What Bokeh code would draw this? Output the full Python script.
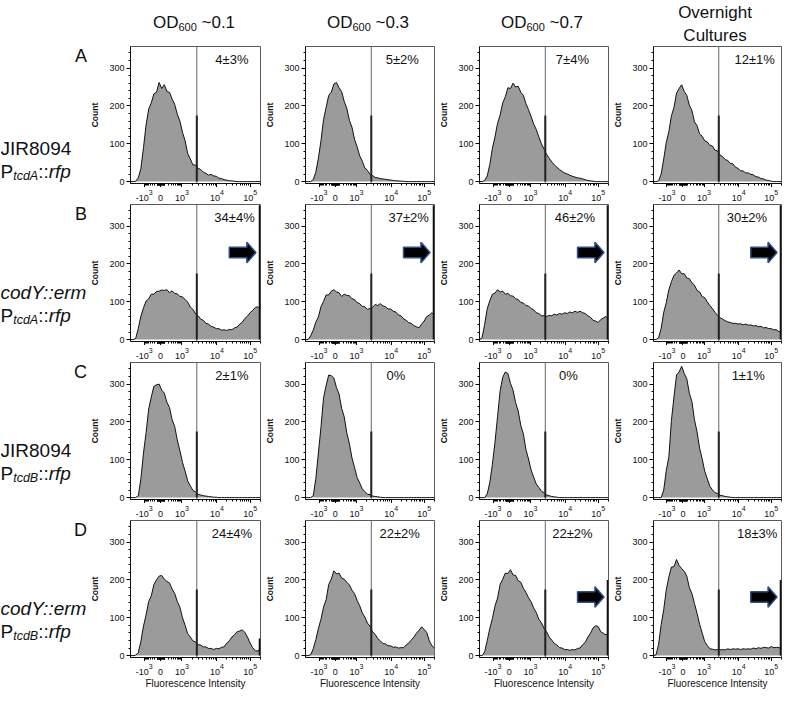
import math
from bokeh.plotting import figure
from bokeh.layouts import column, row
from bokeh.models import Range1d, FixedTicker
from bokeh.core.properties import value
from bokeh.embed import file_html
from bokeh.resources import INLINE

FONT = "Liberation Sans"

# ---------------- data ----------------
# display channel (0-100 across the biexponential axis), one histogram value per channel
CHANNEL = list(range(0, 101, 2))

A1 = [0,0,1,10,35, 90,150,192,208,232, 236,262,246,256,238, 236,218,204,178,160,
      130,108,74,60,44, 44,35,32,25,22, 17,19,15,14,9, 8,5,4,2,2, 1,0,0,0,0, 0,0,0,0,0, 0]
A2 = [0,0,0,5,25, 62,108,164,196,228, 236,258,262,248,238, 212,194,162,144,112,
      92,68,54,36,30, 19,16,11,10,8, 7,6,5,4,3, 2,2,1,1,0, 0,0,0,0,0, 0,0,0,0,0, 0]
A3 = [0,0,3,15,45, 88,118,154,176,208, 224,248,246,260,250, 252,236,228,206,190,
      172,152,138,118,100, 86,72,62,52,44, 38,32,27,23,20, 17,14,12,10,9, 7,5,3,2,1, 0,0,0,0,0, 0]
A4 = [0,0,2,20,60, 104,132,174,196,234, 246,256,238,228,202, 188,158,148,126,120,
      108,105,96,94,83, 81,70,66,58,56, 48,47,38,35,29, 28,23,23,19,18, 13,12,8,7,4, 3,1,0,0,0, 0]
B1 = [0,0,3,30,62, 84,102,108,120,120, 127,128,131,130,132, 124,129,122,121,114,
      113,106,99,86,80, 68,63,54,51,43, 41,35,33,29,29, 25,26,24,27,26, 31,33,41,46,56,
      62,71,77,85,87, 80]
B2 = [0,0,10,25,46, 60,87,101,118,118, 128,132,126,124,114, 120,117,116,108,106,
      98,95,88,87,80, 82,85,93,90,95, 89,87,81,81,75, 73,65,63,55,51, 45,43,37,34,31,
      41,49,61,65,71, 65]
B3 = [0,5,40,82,103, 120,123,132,126,128, 120,122,116,115,108, 106,98,97,90,89,
      82,79,71,69,63, 63,61,64,63,67, 65,69,67,71,69, 73,71,75,72,75, 71,69,63,59,51,
      49,45,53,57,61, 55]
B4 = [0,0,5,30,72, 98,132,153,170,176, 184,174,174,163,161, 150,144,130,126,114,
      111,100,90,82,72, 64,58,54,50,47, 45,43,43,41,42, 39,41,38,39,36, 37,34,35,31,32,
      29,29,26,26,21, 20]
C1 = [0,0,0,5,50, 118,172,234,266,294, 298,300,284,276,252, 238,206,188,152,124,
      93,70,44,31,19, 15,9,7,5,4, 3,2,1,1,0, 0,0,0,0,0, 0,0,0,0,0, 0,0,0,0,0, 0]
C2 = [0,0,0,5,50, 118,186,264,296,324, 322,316,291,274,236, 214,171,143,105,80,
      53,39,23,16,9, 8,4,3,2,1, 0,0,0,0,0, 0,0,0,0,0, 0,0,0,0,0, 0,0,0,0,0, 0]
C3 = [0,0,0,10,40, 88,146,214,282,318, 332,328,302,284,251, 229,191,168,127,102,
      73,54,36,27,17, 13,7,5,3,2, 1,0,0,0,0, 0,0,0,0,0, 0,0,0,0,0, 0,0,0,0,0, 0]
C4 = [0,0,0,0,20, 72,108,204,266,324, 332,347,328,314,276, 254,206,174,131,103,
      70,50,30,21,13, 11,6,5,3,2, 1,0,0,0,0, 0,0,0,0,0, 0,0,0,0,0, 0,0,0,0,0, 0]
D1 = [0,0,1,8,38, 78,108,143,158,188, 200,210,212,202,196, 192,176,164,143,128,
      100,80,58,49,39, 36,29,28,23,23, 19,19,16,19,18, 22,23,33,39,49, 55,63,65,68,61,
      49,33,21,13,12, 20]
D2 = [0,0,2,18,42, 72,96,128,148,188, 202,224,216,218,205, 202,194,187,173,164,
      146,132,113,102,86, 78,63,56,45,39, 32,31,26,26,22, 23,20,21,21,28, 33,41,49,59,67,
      76,69,61,39,26, 20]
D3 = [0,0,10,40,72, 98,131,152,188,202, 218,217,227,213,212, 198,194,178,167,153,
      142,126,114,96,87, 72,63,49,41,32, 28,21,20,16,16, 14,16,15,19,20, 29,35,49,59,73,
      79,77,63,59,55, 60]
D4 = [0,2,30,82,122, 174,208,234,235,254, 238,230,223,210,180, 164,138,112,83,60,
      37,27,18,17,15, 16,15,16,15,18, 16,18,17,18,16, 18,17,18,17,20, 18,21,19,22,21,
      20,24,21,22,21, 20]

HISTS = [[A1, A2, A3, A4], [B1, B2, B3, B4], [C1, C2, C3, C4], [D1, D2, D3, D4]]
# counts piled in the last (off-scale) channel
SPIKES = [[0, 0, 0, 0], [355, 355, 355, 355], [0, 0, 0, 0], [45, 0, 200, 200]]
PERCENTS = [["4±3%", "5±2%", "7±4%", "12±1%"],
            ["34±4%", "37±2%", "46±2%", "30±2%"],
            ["2±1%", "0%", "0%", "1±1%"],
            ["24±4%", "22±2%", "22±2%", "18±3%"]]
# arrow level (count) where an arrow marks the high population, None = no arrow
ARROWS = [[None, None, None, None], [230, 230, 230, 230],
          [None, None, None, None], [None, None, 155, 155]]

COL_TITLES = ["~0.1", "~0.3", "~0.7"]
LAST_TITLE = ["Overnight", "Cultures"]
ROW_LETTERS = ["A", "B", "C", "D"]
ROW_STRAINS = ["JIR8094", "codY::erm", "JIR8094", "codY::erm"]
ROW_PROMOTERS = ["tcdA", "tcdA", "tcdB", "tcdB"]
X_TITLE = "Fluorescence Intensity"

GATE = 51          # gate threshold (display channel)
GATE_MARK = 175    # height of the bold gate marker (count)
X_TICKS = [10.5, 23, 39.5, 66.5, 92]
X_TICK_BASE = ["-10", "0", "10", "10", "10"]
X_TICK_EXP = ["3", "", "3", "4", "5"]
Y_TICKS = [0, 100, 200, 300]

# ---------------- layout constants ----------------
FILL = "#9b9b9b"
FRAME_W = 133
FRAME_H = 137
LABEL_W = 87
HEADER_H = 45
B_LEFT = [40, 39, 39, 38]
B_RIGHT = [2, 2, 2, 2]
B_BOTTOM = 4
STRIP_H = 16
STRIP_H_LAST = 28
Y_RANGE = (-5, 357)
LABEL_X = [[78, 75, 72, 79], [80, 80, 74, 73], [78, 70, 69, 74], [78, 73, 72, 81]]
ROW_LABEL_DY = [103, 89, 89, 89]
TICK_F, SUP_F = 9, 7
RF, RS = 19, 12.5
X_RANGE = Range1d(0, 100)


def chan(v):
    """biexponential display position of a fluorescence value"""
    if v >= 10000:
        return 66.5 + 25.5 * math.log10(v / 10000)
    if v >= 1000:
        return 39.5 + 27 * math.log10(v / 1000)
    if v >= 0:
        return 23 + 16.5 * math.asinh(v / 200) / math.asinh(5)
    return 23 - 12.5 * math.asinh(-v / 200) / math.asinh(5)


MINOR = []
for k in range(1, 10):
    MINOR += [chan(10 * k), chan(-10 * k), chan(100 * k), chan(-100 * k),
              chan(1000 * k), chan(10000 * k)]
MINOR.append(chan(200000))
MINOR = sorted(set(round(m, 3) for m in MINOR if 0 <= m <= 100))

CHAR_W = {"-": 0.333}


def str_w(s, size):
    return sum(CHAR_W.get(ch, 0.556) for ch in s) * size


def txt(p, x, y, s, size, style="normal", align="left", baseline="alphabetic", xo=0):
    p.text(x=[x], y=[y], text=[s], x_offset=xo, text_font=value(FONT),
           text_font_size=f"{size}px", text_font_style=style, text_align=align,
           text_baseline=baseline, text_color="#111111")


def blank(width, height, x_range=None, bl=0, br=0):
    p = figure(width=width, height=height,
               x_range=x_range if x_range is not None else Range1d(0, width),
               y_range=Range1d(height, 0), toolbar_location=None, output_backend="svg",
               min_border=0, min_border_left=bl, min_border_right=br,
               min_border_top=0, min_border_bottom=0)
    p.axis.visible = False
    p.grid.visible = False
    p.outline_line_color = None
    return p


def make_panel(r, c):
    vals = HISTS[r][c]
    w = B_LEFT[c] + FRAME_W + B_RIGHT[c]
    p = figure(width=w, height=1 + FRAME_H + B_BOTTOM,
               x_range=X_RANGE, y_range=Range1d(*Y_RANGE),
               toolbar_location=None, output_backend="svg",
               min_border_left=B_LEFT[c], min_border_right=B_RIGHT[c],
               min_border_top=1, min_border_bottom=B_BOTTOM)
    p.grid.visible = False
    p.outline_line_color = "#5a5a5a"
    p.outline_line_width = 1

    p.varea(x=CHANNEL, y1=0, y2=vals, fill_color=FILL)
    p.line(CHANNEL, vals, line_color="#111111", line_width=1)

    p.segment(x0=[GATE], y0=[Y_RANGE[0]], x1=[GATE], y1=[Y_RANGE[1]],
              line_color="#666666", line_width=1)
    p.segment(x0=[GATE], y0=[0], x1=[GATE], y1=[GATE_MARK],
              line_color="#222222", line_width=2)
    if SPIKES[r][c] > 0:
        p.segment(x0=[99.4], y0=[0], x1=[99.4], y1=[SPIKES[r][c]],
                  line_color="#111111", line_width=2)
    a = ARROWS[r][c]
    if a is not None:
        p.patch([76, 89.5, 89.5, 96.5, 89.5, 89.5, 76],
                [a - 14, a - 14, a - 27, a, a + 27, a + 14, a + 14],
                fill_color="black", line_color="#2d4f86", line_width=1.5)

    p.text(x=[LABEL_X[r][c]], y=[322], text=[PERCENTS[r][c]],
           text_align="center", text_baseline="middle",
           text_font=value(FONT), text_font_size="13px", text_color="#111111")

    xa = p.xaxis[0]
    xa.ticker = FixedTicker(ticks=X_TICKS, minor_ticks=MINOR)
    xa.major_label_overrides = {t: "" for t in X_TICKS}
    xa.major_label_text_font_size = "1px"
    xa.major_label_standoff = 0
    xa.major_tick_out = 4
    xa.major_tick_in = 0
    xa.minor_tick_out = 2
    xa.minor_tick_in = 0
    xa.axis_line_color = "#111111"

    ya = p.yaxis[0]
    ya.ticker = FixedTicker(ticks=Y_TICKS, minor_ticks=list(range(0, 360, 20)))
    ya.major_tick_out = 4
    ya.major_tick_in = 0
    ya.minor_tick_out = 2
    ya.minor_tick_in = 0
    ya.major_label_standoff = 2
    ya.major_label_text_font = FONT
    ya.major_label_text_font_size = "9px"
    ya.major_label_text_color = "#111111"
    ya.axis_line_color = "#111111"
    ya.axis_label = "Count"
    ya.axis_label_text_font = FONT
    ya.axis_label_text_font_size = "8.5px"
    ya.axis_label_text_font_style = "bold"
    ya.axis_label_standoff = 6
    ya.axis_label_text_color = "#111111"

    # x tick labels (with raised exponents) in a strip sharing the x scale
    sh = STRIP_H_LAST if r == 3 else STRIP_H
    s = blank(w, sh, x_range=X_RANGE, bl=B_LEFT[c], br=B_RIGHT[c])
    for t, b, e in zip(X_TICKS, X_TICK_BASE, X_TICK_EXP):
        bw, ew = str_w(b, TICK_F), str_w(e, SUP_F)
        txt(s, t, 10.5, b, TICK_F, align="center", baseline="middle", xo=-ew / 2)
        if e:
            txt(s, t, 4.8, e, SUP_F, align="left", baseline="middle", xo=(bw - ew) / 2)
    if r == 3:
        txt(s, 50, 21.5, X_TITLE, 10, align="center", baseline="middle")
    return column([p, s], spacing=0)


# header
TOTAL_W = LABEL_W + sum(B_LEFT[i] + FRAME_W + B_RIGHT[i] for i in range(4))
header = blank(TOTAL_W, HEADER_H)
x0 = LABEL_W
centers = []
for i in range(4):
    centers.append(x0 + B_LEFT[i] + FRAME_W / 2)
    x0 += B_LEFT[i] + FRAME_W + B_RIGHT[i]
F, FS = 17, 11
for i, t in enumerate(COL_TITLES):
    w = 1.5 * F + 1.668 * FS + (0.278 + 0.584 + 0.556 + 0.278 + 0.556) * F
    sx = centers[i] - w / 2
    txt(header, sx, 22, "OD", F)
    txt(header, sx + 1.5 * F, 26, "600", FS)
    txt(header, sx + 1.5 * F + 1.668 * FS + 0.278 * F, 22, t, F)
txt(header, centers[3], 12, LAST_TITLE[0], F, align="center")
txt(header, centers[3], 35, LAST_TITLE[1], F, align="center")

rows = [header]
for r in range(4):
    h = 1 + FRAME_H + B_BOTTOM + (STRIP_H_LAST if r == 3 else STRIP_H)
    lab = blank(LABEL_W, h)
    txt(lab, LABEL_W - 0.5, 10, ROW_LETTERS[r], 18, align="right", baseline="middle")
    style = "italic" if "::" in ROW_STRAINS[r] else "normal"
    y1 = ROW_LABEL_DY[r]
    txt(lab, 0, y1, ROW_STRAINS[r], RF, style=style)
    txt(lab, 0, y1 + 23, "P", RF)
    xx = 0.667 * RF
    txt(lab, xx, y1 + 27, ROW_PROMOTERS[r], RS, style="italic")
    xx += 2.0 * RS
    txt(lab, xx, y1 + 23, "::", RF)
    xx += 0.556 * RF
    txt(lab, xx, y1 + 23, "rfp", RF, style="italic")
    rows.append(row([lab] + [make_panel(r, c) for c in range(4)], spacing=0))

layout = column(rows, spacing=0)
open("out.html", "w").write(file_html(layout, INLINE))
